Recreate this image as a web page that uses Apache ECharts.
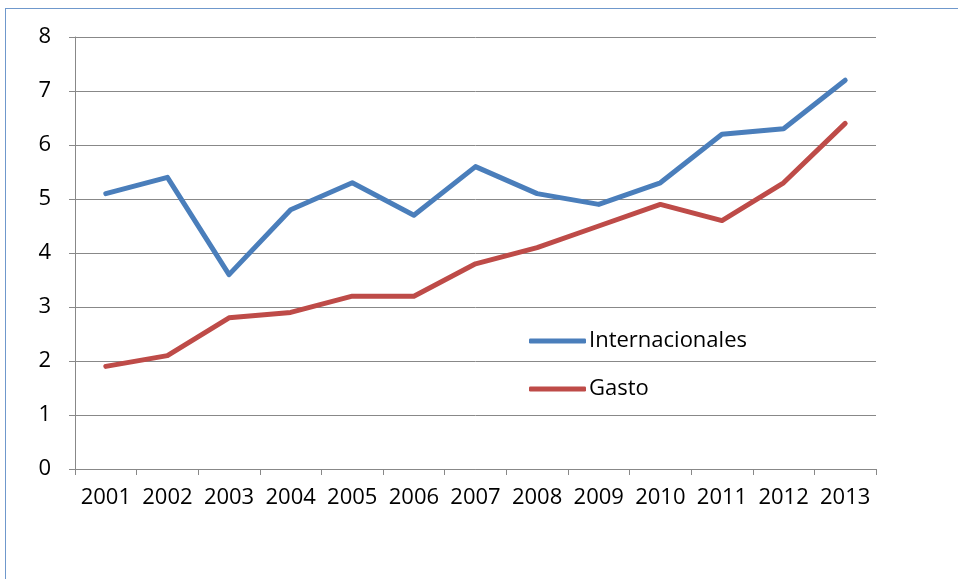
<!DOCTYPE html>
<html>
<head>
<meta charset="utf-8">
<script src="https://cdn.jsdelivr.net/npm/echarts@6/dist/echarts.min.js"></script>
<style>
  html, body { margin: 0; padding: 0; background: #fff; overflow: hidden; }
  #frame { position: absolute; left: 5px; top: 8px; width: 970px; height: 590px;
           border-left: 1.5px solid #6f98cc; border-top: 1.5px solid #6f98cc; }
  #chart { position: absolute; left: 0; top: 0; width: 958px; height: 579px; }
</style>
</head>
<body>
<div id="frame"></div>
<div id="chart"></div>
<script>
const years = ['2001','2002','2003','2004','2005','2006','2007','2008','2009','2010','2011','2012','2013'];
const internacionales = [5.1, 5.4, 3.6, 4.8, 5.3, 4.7, 5.6, 5.1, 4.9, 5.3, 6.2, 6.3, 7.2];
const gasto = [1.9, 2.1, 2.8, 2.9, 3.2, 3.2, 3.8, 4.1, 4.5, 4.9, 4.6, 5.3, 6.4];
const yTicks = { min: 0, max: 8, interval: 1 };

const font = '"Open Sans", sans-serif';
const chart = echarts.init(document.getElementById('chart'), null, { renderer: 'canvas' });
chart.setOption({
  animation: false,
  backgroundColor: 'transparent',
  grid: { left: 75, right: 82, top: 37, bottom: 110, containLabel: false },
  legend: {
    orient: 'vertical',
    left: 529,
    top: 328,
    padding: 0,
    itemWidth: 57,
    itemHeight: 5,
    itemGap: 22,
    icon: 'roundRect',
    textStyle: { fontFamily: font, fontSize: 22, color: '#000', lineHeight: 26, padding: [0, 0, 0, -2] },
    data: ['Internacionales', 'Gasto']
  },
  xAxis: {
    type: 'category',
    data: years,
    boundaryGap: true,
    axisLine: { show: true, lineStyle: { color: '#888', width: 1 } },
    axisTick: { show: true, length: 6, alignWithLabel: false, lineStyle: { color: '#888' } },
    axisLabel: { fontFamily: font, fontSize: 22, color: '#000', margin: 18, interval: 0 },
    splitLine: { show: false }
  },
  yAxis: {
    type: 'value',
    min: yTicks.min, max: yTicks.max, interval: yTicks.interval,
    axisLine: { show: true, lineStyle: { color: '#888', width: 1 } },
    axisTick: { show: true, length: 6, lineStyle: { color: '#888' } },
    axisLabel: { fontFamily: font, fontSize: 22, color: '#000', margin: 24 },
    splitLine: { show: true, lineStyle: { color: '#888', width: 1 } }
  },
  series: [
    {
      name: 'Internacionales', type: 'line', data: internacionales,
      showSymbol: false, symbol: 'none',
      lineStyle: { color: '#4a7ebb', width: 5, cap: 'round', join: 'round' },
      itemStyle: { color: '#4a7ebb' }
    },
    {
      name: 'Gasto', type: 'line', data: gasto,
      showSymbol: false, symbol: 'none',
      lineStyle: { color: '#be4b48', width: 5, cap: 'round', join: 'round' },
      itemStyle: { color: '#be4b48' }
    }
  ]
});
</script>
</body>
</html>
